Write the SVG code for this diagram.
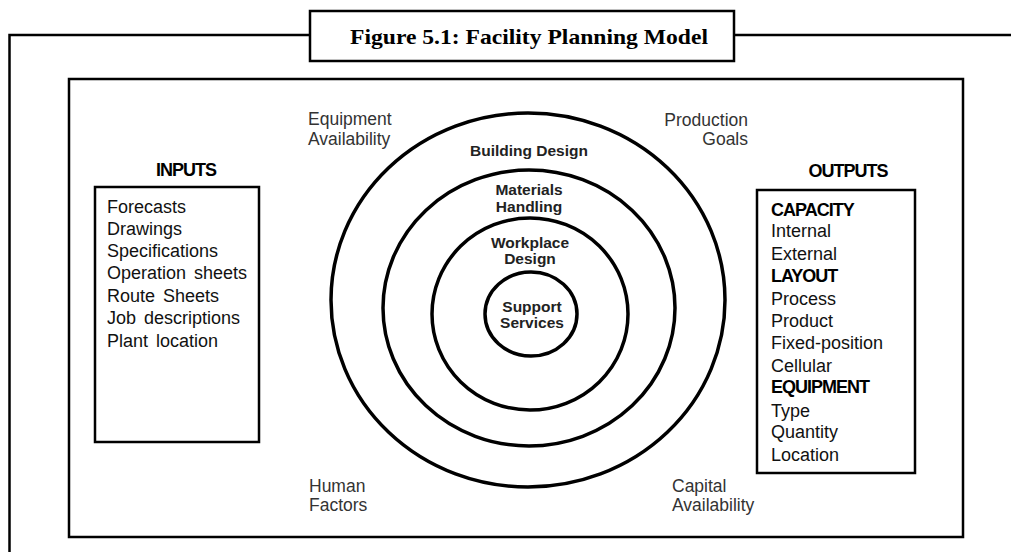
<svg xmlns="http://www.w3.org/2000/svg" width="1011" height="552" viewBox="0 0 1011 552">
<style>
.ln{fill:none;stroke:#000;stroke-width:2.5}
.ring{fill:none;stroke:#000;stroke-width:3.5}
.lab{font-family:"Liberation Sans",Arial,sans-serif;font-size:17.5px;fill:#333}
.ring-t{font-family:"Liberation Sans",Arial,sans-serif;font-size:15.5px;font-weight:bold;fill:#222;text-anchor:middle}
.item{font-family:"Liberation Sans",Arial,sans-serif;font-size:18px;fill:#111}
.hd{font-family:"Liberation Sans",Arial,sans-serif;font-size:18px;font-weight:bold;fill:#000;letter-spacing:-1px}
.title{font-family:"Liberation Serif","Times New Roman",serif;font-size:21px;font-weight:bold;fill:#000}
</style>
<rect width="1011" height="552" fill="#fff"/>
<g id="frame">
<path class="ln" d="M9.5,552 V35 H310 M734,35 H1011"/>
<rect class="ln" x="69" y="79" width="894" height="458"/>
</g>
<g id="title">
<rect class="ln" x="310" y="11" width="424" height="50" fill="#fff"/>
<text class="title" x="350" y="44" textLength="358" lengthAdjust="spacingAndGlyphs">Figure 5.1: Facility Planning Model</text>
</g>
<g id="rings">
<ellipse class="ring" cx="528" cy="300" rx="197" ry="187"/>
<ellipse class="ring" cx="529" cy="308" rx="146" ry="138"/>
<ellipse class="ring" cx="530" cy="314" rx="98" ry="96"/>
<ellipse class="ring" cx="531" cy="314" rx="46" ry="42"/>
<text class="ring-t" x="529" y="156">Building Design</text>
<text class="ring-t" x="529" y="195">Materials</text>
<text class="ring-t" x="529" y="212">Handling</text>
<text class="ring-t" x="530" y="248">Workplace</text>
<text class="ring-t" x="530" y="264">Design</text>
<text class="ring-t" x="532" y="312">Support</text>
<text class="ring-t" x="532" y="328">Services</text>
</g>
<g id="factors">
<text class="lab" x="308" y="125">Equipment</text>
<text class="lab" x="308" y="145">Availability</text>
<text class="lab" x="748" y="126" text-anchor="end">Production</text>
<text class="lab" x="748" y="145" text-anchor="end">Goals</text>
<text class="lab" x="309" y="492">Human</text>
<text class="lab" x="309" y="511">Factors</text>
<text class="lab" x="672" y="492">Capital</text>
<text class="lab" x="672" y="511">Availability</text>
</g>
<g id="inputs">
<text class="hd" x="186" y="176" text-anchor="middle">INPUTS</text>
<rect class="ln" x="95" y="187" width="164" height="255" fill="none"/>
<g style="word-spacing:3px">
<text class="item" x="107" y="213">Forecasts</text>
<text class="item" x="107" y="235">Drawings</text>
<text class="item" x="107" y="257">Specifications</text>
<text class="item" x="107" y="279">Operation sheets</text>
<text class="item" x="107" y="302">Route Sheets</text>
<text class="item" x="107" y="324">Job descriptions</text>
<text class="item" x="107" y="347">Plant location</text>
</g>
</g>
<g id="outputs">
<text class="hd" x="848" y="177" text-anchor="middle">OUTPUTS</text>
<rect class="ln" x="757" y="190" width="158" height="283" fill="none"/>
<text class="hd" x="771" y="216">CAPACITY</text>
<text class="item" x="771" y="237">Internal</text>
<text class="item" x="771" y="260">External</text>
<text class="hd" x="771" y="282">LAYOUT</text>
<text class="item" x="771" y="305">Process</text>
<text class="item" x="771" y="327">Product</text>
<text class="item" x="771" y="349">Fixed-position</text>
<text class="item" x="771" y="372">Cellular</text>
<text class="hd" x="771" y="393">EQUIPMENT</text>
<text class="item" x="771" y="417">Type</text>
<text class="item" x="771" y="438">Quantity</text>
<text class="item" x="771" y="461">Location</text>
</g>
</svg>
